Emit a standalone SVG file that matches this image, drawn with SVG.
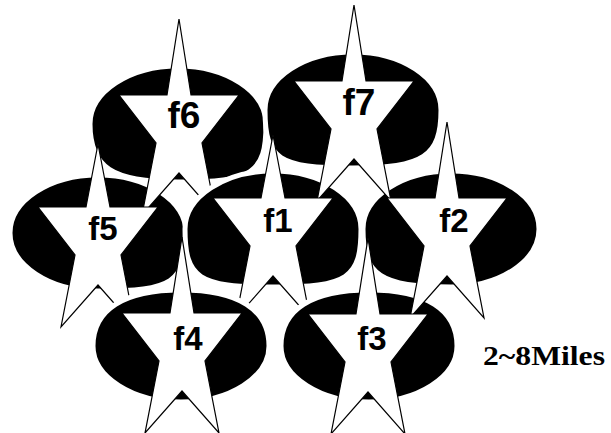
<svg xmlns="http://www.w3.org/2000/svg" xmlns:xlink="http://www.w3.org/1999/xlink" width="611" height="433" viewBox="0 0 611 433">
<style>
.cell{fill:#000;stroke:#fff;stroke-width:5}
.star{fill:#fff;stroke:#000;stroke-width:1.2;stroke-linejoin:miter}
.lbl{font-family:"Liberation Sans",Arial,sans-serif;font-weight:bold;font-size:33px;fill:#000;text-anchor:middle}
.big{font-size:37px}
.note{font-family:"Liberation Serif","Times New Roman",serif;font-weight:bold;font-size:27px;fill:#000}
</style>
<defs>
<path id="star" d="M0,-76 L12,0 L60,0 L23,48 L37,120 L0,78 L-37,120 L-23,48 L-60,0 L-12,0 Z"/>
<path id="starS" d="M0,-63 L12,0 L60,0 L23,48 L37,120 L0,78 L-37,120 L-23,48 L-60,0 L-12,0 Z"/>
</defs>
<rect width="611" height="433" fill="#fff"/>
<path id="f6-area" class="cell" d="M266,124 C266,173.3 252.8,182 178,182 C112,182 90,167.5 90,124 C90,92 129.4,66 178,66 C226.6,66 266,92 266,124 Z"/>
<path id="f7-area" class="cell" d="M441,110 C441,156.4 423.4,168 353,168 C278.2,168 265,159.3 265,110 C265,78 304.4,52 353,52 C401.6,52 441,78 441,110 Z"/>
<path id="f5-area" class="cell" d="M186,233 C186,282.3 172.8,291 98,291 C49.4,291 10,265 10,233 C10,201 49.4,175 98,175 C146.6,175 186,201 186,233 Z"/>
<g id="f6">
<use xlink:href="#star" href="#star" class="star" x="179" y="95"/>
<text class="lbl big" x="184" y="128">f6</text>
</g>
<path id="f1-area" class="cell" d="M361,229 C361,278.3 347.8,287 273,287 C198.2,287 185,278.3 185,229 C185,197 224.4,171 273,171 C321.6,171 361,197 361,229 Z"/>
<path id="f2-area" class="cell" d="M539,229 C539,261 499.6,287 451,287 C380.6,287 363,275.4 363,229 C363,197 402.4,171 451,171 C499.6,171 539,197 539,229 Z"/>
<g id="f7">
<use xlink:href="#star" href="#star" class="star" x="354" y="81"/>
<text class="lbl big" x="359" y="115">f7</text>
</g>
<g id="f5">
<use xlink:href="#starS" href="#starS" class="star" x="98" y="207"/>
<text class="lbl" x="103" y="240">f5</text>
</g>
<g id="f1">
<use xlink:href="#starS" href="#starS" class="star" x="273" y="198"/>
<text class="lbl" x="278" y="232">f1</text>
</g>
<path id="f4-area" class="cell" d="M269,346 C269,376.9 229.6,402 181,402 C132.4,402 93,376.9 93,346 C93,309.6 123.8,290 181,290 C238.2,290 269,309.6 269,346 Z"/>
<path id="f3-area" class="cell" d="M457,346 C457,376.9 417.6,402 369,402 C320.4,402 281,376.9 281,346 C281,309.6 311.8,290 369,290 C426.2,290 457,309.6 457,346 Z"/>
<g id="f2">
<use xlink:href="#star" href="#star" class="star" x="447" y="198"/>
<text class="lbl" x="454" y="232">f2</text>
</g>
<g id="f4">
<use xlink:href="#star" href="#star" class="star" x="182" y="313"/>
<text class="lbl" x="188" y="350">f4</text>
</g>
<g id="f3">
<use xlink:href="#star" href="#star" class="star" x="368" y="314"/>
<text class="lbl" x="372" y="350">f3</text>
</g>
<text id="scale" class="note" x="483" y="365" textLength="122" lengthAdjust="spacingAndGlyphs">2~8Miles</text>
</svg>
